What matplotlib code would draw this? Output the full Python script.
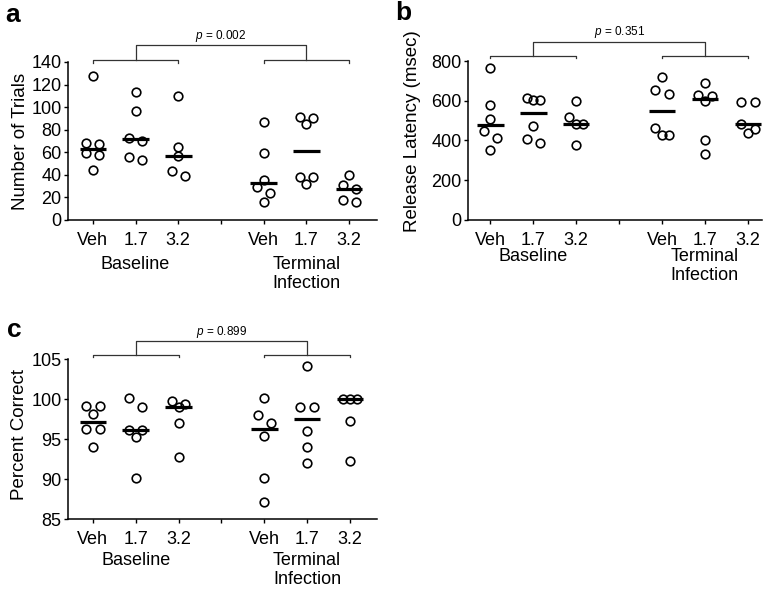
import numpy as np
import matplotlib
matplotlib.use("Agg")
import matplotlib.pyplot as plt
import matplotlib.transforms as mtransforms

plt.rcParams['font.family'] = ['Liberation Sans', 'DejaVu Sans']
plt.rcParams['mathtext.fontset'] = 'custom'
plt.rcParams['mathtext.it'] = 'Liberation Sans:italic'
plt.rcParams['mathtext.rm'] = 'Liberation Sans'

# Daten
dose_labels = ['Veh', '1.7', '3.2']
phase_labels = ['Baseline', 'Terminal\nInfection']

# a: Number of Trials
trials_base_veh = [128, 68, 67, 59, 58, 44]
trials_base_17 = [113, 97, 73, 70, 56, 53]
trials_base_32 = [110, 65, 57, 43, 39]
trials_term_veh = [87, 59, 35.5, 29.5, 23.5, 16]
trials_term_17 = [91, 90, 85, 38, 38, 32]
trials_term_32 = [40, 31, 27.5, 18, 16]

# b: Release Latency (msec)
latency_base_veh = [765, 577, 507, 449, 415, 351]
latency_base_17 = [616, 602, 602, 474, 408, 388]
latency_base_32 = [600, 518, 485, 485, 375]
latency_term_veh = [720, 656, 633, 464, 430, 430]
latency_term_17 = [690, 631, 623, 598, 402, 331]
latency_term_32 = [594, 594, 482, 460, 439]

# c: Percent Correct
correct_base_veh = [99.1, 99.1, 98.1, 96.2, 96.2, 94.0]
correct_base_17 = [100.1, 99.0, 96.1, 96.1, 95.2, 90.1]
correct_base_32 = [99.8, 99.4, 99.0, 97.0, 92.8]
correct_term_veh = [100.1, 98.0, 97.0, 95.4, 90.1, 87.1]
correct_term_17 = [104.1, 99.0, 99.0, 96.0, 94.0, 92.0]
correct_term_32 = [100, 100, 100, 97.3, 92.3]

p_trials = '0.002'
p_latency = '0.351'
p_correct = '0.899'

cat_pos = [1, 2, 3, 5, 6, 7]


def spread(vals, px_x, px_y, step_px=6.7, gap_px=9.0):
    # Punkte mit aehnlichen Werten nebeneinander legen (wie Prism)
    v = np.asarray(vals, float)
    order = np.argsort(v, kind='stable')
    vs = v[order]
    clusters = [[0]]
    for i in range(1, len(vs)):
        if (vs[i] - vs[i - 1]) * px_y < gap_px:
            clusters[-1].append(i)
        else:
            clusters.append([i])
    offs = np.zeros(len(vs))
    for c in clusters:
        if len(c) == 2:
            slots = [1, -1]
        else:
            slots = [[0, 1, -1][k % 3] for k in range(len(c))]
        for k, idx in enumerate(c):
            offs[idx] = slots[k] * step_px / px_x
    out = np.zeros(len(vs))
    out[order] = offs
    return out


fig = plt.figure(figsize=(7.75, 5.93), dpi=100)


def draw_panel(rect, groups, ylim, yticks, ylabel, pval, letter, letter_xy,
               xlim, ylab_xy, grp_y, brk):
    ax = fig.add_axes(rect)
    ax.set_xlim(*xlim)
    ax.set_ylim(*ylim)
    w_px = rect[2] * 775
    h_px = rect[3] * 593
    px_x = w_px / (xlim[1] - xlim[0])
    px_y = h_px / (ylim[1] - ylim[0])

    for x, vals in zip(cat_pos, groups):
        offs = spread(vals, px_x, px_y)
        ax.plot(x + offs, vals, 'o', ms=6.2, mfc='none', mec='black', mew=1.2,
                clip_on=False, zorder=3)
        med = np.median(vals)
        ax.plot([x - 0.31, x + 0.31], [med, med], color='black', lw=2.3,
                solid_capstyle='butt', zorder=2)

    for s in ['top', 'right']:
        ax.spines[s].set_visible(False)
    for s in ['left', 'bottom']:
        ax.spines[s].set_linewidth(1.1)

    ax.set_xticks([1, 2, 3, 4, 5, 6, 7])
    ax.set_xticklabels(dose_labels + [''] + dose_labels)
    ax.set_yticks(yticks)
    ax.tick_params(axis='x', length=3, width=1, pad=5.5, labelsize=13)
    ax.tick_params(axis='y', length=3, width=1, pad=1.5, labelsize=13)
    ax.set_ylabel(ylabel, fontsize=13.5)
    ax.yaxis.set_label_coords(*ylab_xy)

    trans = mtransforms.blended_transform_factory(ax.transData, ax.transAxes)
    ax.text(2, grp_y, phase_labels[0], transform=trans, ha='center', va='top',
            fontsize=13)
    ax.text(6, grp_y, phase_labels[1], transform=trans, ha='center', va='top',
            fontsize=13, linespacing=1.2)

    # Klammern oben
    lo_end, lo, hi, ptxt = brk
    kw = dict(transform=trans, color='#333333', lw=0.9, clip_on=False)
    for c in (2, 6):
        ax.plot([c - 1, c - 1, c + 1, c + 1], [lo_end, lo, lo, lo_end], **kw)
    ax.plot([2, 2, 6, 6], [lo, hi, hi, lo], **kw)
    ax.text(4, ptxt, r'$\it{p}$ = ' + pval, transform=trans, ha='center',
            va='baseline', fontsize=8.5)

    fig.text(letter_xy[0], letter_xy[1], letter, fontsize=19,
             fontweight='bold', va='baseline')
    return ax


draw_panel([68 / 775, 1 - 220 / 593, 309 / 775, 158 / 593],
           [trials_base_veh, trials_base_17, trials_base_32,
            trials_term_veh, trials_term_17, trials_term_32],
           (0, 140), np.arange(0, 141, 20), 'Number of Trials', p_trials,
           'a', (5 / 775, 1 - 22 / 593), (0.42, 7.65), (-0.125, 0.5), -0.225,
           (0.995, 1.013, 1.108, 1.146))

draw_panel([468 / 775, 1 - 220 / 593, 294 / 775, 159 / 593],
           [latency_base_veh, latency_base_17, latency_base_32,
            latency_term_veh, latency_term_17, latency_term_32],
           (0, 800), np.arange(0, 801, 200), 'Release Latency (msec)', p_latency,
           'b', (395 / 775, 1 - 20 / 593), (0.48, 7.33), (-0.16, 0.56), -0.175,
           (1.017, 1.031, 1.121, 1.164))

draw_panel([68 / 775, 1 - 519 / 593, 309 / 775, 160 / 593],
           [correct_base_veh, correct_base_17, correct_base_32,
            correct_term_veh, correct_term_17, correct_term_32],
           (85, 105), np.arange(85, 106, 5), 'Percent Correct', p_correct,
           'c', (7 / 775, 1 - 337 / 593), (0.42, 7.63), (-0.13, 0.53), -0.205,
           (1.013, 1.028, 1.114, 1.15))

fig.savefig('out.png', dpi=100)
